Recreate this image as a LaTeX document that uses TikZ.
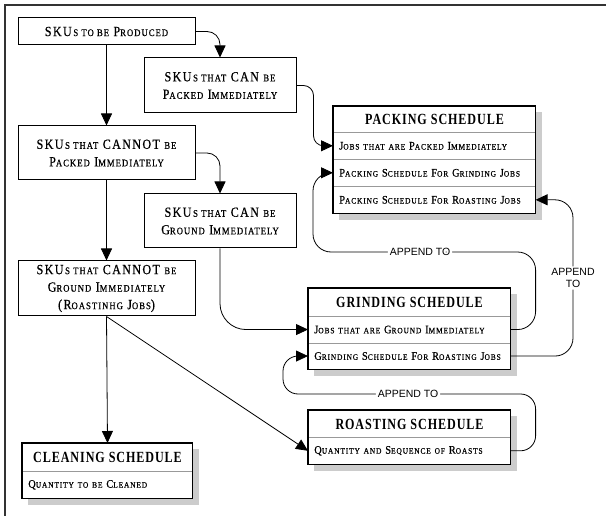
\documentclass[tikz,border=0pt]{standalone}
\usepackage{fontspec}
\setmainfont{Liberation Serif}
\newfontfamily\skufont[LetterSpace=10,FakeStretch=0.86,FakeBold=0.6]{Liberation Serif}
\newfontfamily\rowfont[LetterSpace=10,FakeStretch=0.9,FakeBold=0.5]{Liberation Serif}
\newfontfamily\titlefont[LetterSpace=6,FakeStretch=0.78]{Liberation Serif}
\newfontfamily\appfont{Liberation Sans}
\usetikzlibrary{arrows.meta,calc}
\makeatletter
\newcommand\s[1]{{\fontsize{\fpeval{0.72*\f@size}}{\fpeval{0.72*\f@size}}\selectfont #1}}
\makeatother
\definecolor{framecol}{HTML}{333333}
\definecolor{shadowcol}{HTML}{CCCCCC}
\definecolor{divcol}{HTML}{999999}
\pgfdeclarelayer{bg}
\pgfsetlayers{bg,main}
\tikzset{
  skubox/.style={draw=black, line width=1pt, fill=white, align=center, inner sep=0pt,
    font=\skufont\fontsize{14}{17.5}\selectfont},
  titlebox/.style={draw=black, line width=1pt, fill=white, inner sep=0pt, anchor=north west,
    font=\titlefont\bfseries\fontsize{15.5}{15.5}\selectfont},
  rowbox/.style={draw=divcol, line width=0.6pt, fill=white, inner xsep=6pt, inner ysep=0pt,
    anchor=north west, align=left, font=\rowfont\fontsize{11.5}{12}\selectfont},
  conn/.style={draw=black, line width=0.8pt, -{Triangle[length=12pt,width=11pt]}},
  applabel/.style={fill=white, inner xsep=2pt, inner ysep=1pt, font=\appfont\fontsize{10.5}{12}\selectfont},
  outline/.style={draw=black, line width=1.1pt},
  shadow/.style={fill=shadowcol}
}
\begin{document}
\begin{tikzpicture}[x=1pt,y=-1pt]
\useasboundingbox (0,0) rectangle (606,516);
\draw[framecol, line width=2pt] (5,516) -- (5,5) -- (606,5);

% SKU boxes
\node[skubox, minimum width=177, minimum height=27] (A) at (106.5,31.5)
  {SKU\s{\,S TO BE} P\s{RODUCED}};
\node[skubox, minimum width=152, minimum height=55] (B) at (220,85.5)
  {SKU\s{\,S THAT} CAN \s{BE}\\P\s{ACKED} I\s{MMEDIATELY}};
\node[skubox, minimum width=177, minimum height=54] (C) at (106.5,153)
  {SKU\s{\,S THAT} CANNOT \s{BE}\\P\s{ACKED} I\s{MMEDIATELY}};
\node[skubox, minimum width=152, minimum height=54] (D) at (220,221)
  {SKU\s{\,S THAT} CAN \s{BE}\\G\s{ROUND} I\s{MMEDIATELY}};
\node[skubox, minimum width=177, minimum height=55] (E) at (106.5,288.5)
  {SKU\s{\,S THAT} CANNOT \s{BE}\\G\s{ROUND} I\s{MMEDIATELY}\\(R\s{OASTINHG} J\s{OBS})};

% Packing schedule
\node[titlebox, minimum width=202, minimum height=26] (PT) at (333,106) {PACKING SCHEDULE};
\node[rowbox, text width=190, minimum height=27] (p1) at (333,132) {J\s{OBS THAT ARE} P\s{ACKED} I\s{MMEDIATELY}};
\node[rowbox, text width=190, minimum height=27] (p2) at (333,159) {P\s{ACKING} S\s{CHEDULE} F\s{OR} G\s{RINDING} J\s{OBS}};
\node[rowbox, text width=190, minimum height=27] (p3) at (333,186) {P\s{ACKING} S\s{CHEDULE} F\s{OR} R\s{OASTING} J\s{OBS}};
\draw[outline] (PT.north west) rectangle (p3.south east);

% Grinding schedule
\node[titlebox, minimum width=202, minimum height=28] (HT) at (308,288) {GRINDING SCHEDULE};
\node[rowbox, text width=190, minimum height=26.5] (h1) at (308,316) {J\s{OBS THAT ARE} G\s{ROUND} I\s{MMEDIATELY}};
\node[rowbox, text width=190, minimum height=26.5] (h2) at (308,342.5) {G\s{RINDING} S\s{CHEDULE} F\s{OR} R\s{OASTING} J\s{OBS}};
\draw[outline] (HT.north west) rectangle (h2.south east);

% Roasting schedule
\node[titlebox, minimum width=202, minimum height=27] (GT) at (308,410) {ROASTING SCHEDULE};
\node[rowbox, text width=190, minimum height=27] (g1) at (308,437) {Q\s{UANTITY AND} S\s{EQUENCE OF} R\s{OASTS}};
\draw[outline] (GT.north west) rectangle (g1.south east);

% Cleaning schedule
\node[titlebox, minimum width=170, minimum height=28] (FT) at (22,443) {CLEANING SCHEDULE};
\node[rowbox, text width=158, minimum height=27] (f1) at (22,471) {Q\s{UANTITY TO BE} C\s{LEANED}};
\draw[outline] (FT.north west) rectangle (f1.south east);

\begin{pgfonlayer}{bg}
  \fill[shadow] ($(PT.north west)+(6,6)$) rectangle ($(p3.south east)+(6,6)$);
  \fill[shadow] ($(HT.north west)+(6,6)$) rectangle ($(h2.south east)+(6,6)$);
  \fill[shadow] ($(GT.north west)+(6,6)$) rectangle ($(g1.south east)+(6,6)$);
  \fill[shadow] ($(FT.north west)+(6,6)$) rectangle ($(f1.south east)+(6,6)$);
\end{pgfonlayer}

% connectors
\draw[conn] (A.south) -- (C.north);
\draw[conn] (C.south) -- (E.north);
\draw[conn] (E.south) -- (FT.north);
\draw[conn] (E.south) -- (g1.west);
\draw[conn, rounded corners=13] (A.east) -| (B.north);
\draw[conn, rounded corners=13] (C.east) -| (D.north);
\draw[conn, rounded corners=10] (B.east) -- ++(17,0) |- (p1.west);
\draw[conn, rounded corners=26] (D.south) |- (h1.west);
\draw[conn, rounded corners=18] (h1.east) -- ++(25,0) |- (420,252) node[applabel] {APPEND TO}
  -| ($(p2.west)+(-20,0)$) -- (p2.west);
\draw[conn, rounded corners=18] (h2.east) -| (573,278) node[applabel, align=center, inner ysep=2pt] {APPEND\\TO}
  |- (p3.east);
\draw[conn, rounded corners=15] (g1.east) -- ++(25,0) |- (408,394) node[applabel] {APPEND TO}
  -| ($(h2.west)+(-25,0)$) -- (h2.west);
\end{tikzpicture}
\end{document}
